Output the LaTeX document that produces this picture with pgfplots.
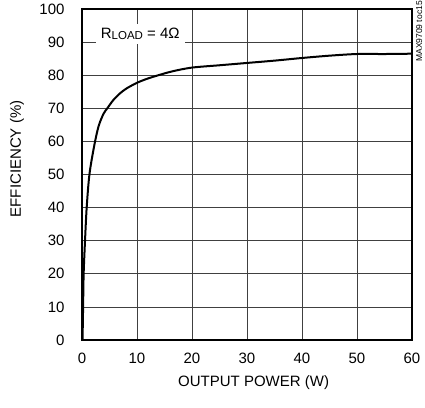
\documentclass[border=0pt]{standalone}
\usepackage{pgfplots}
\pgfplotsset{compat=1.18}
\usepackage{fontspec}
\setmainfont{Liberation Sans}

\begin{document}
\begin{tikzpicture}
\useasboundingbox (-82pt,-67pt) rectangle (343pt,340pt);
\begin{axis}[
    at={(0,0)}, anchor=south west,
    scale only axis,
    width=330pt, height=331pt,
    xmin=0, xmax=60, ymin=0, ymax=100,
    xtick={0,10,...,60},
    ytick={0,10,...,100},
    major tick length=0pt,
    grid=major,
    major grid style={black!75, line width=0.7pt},
    axis line style={line width=2.2pt},
    font=\fontsize{15}{18}\selectfont,
    /pgf/number format/assume math mode=true,
    xticklabel style={yshift=-9pt},
    yticklabel style={xshift=-14pt},
    xlabel={OUTPUT POWER (W)},
    ylabel={EFFICIENCY (\%)},
    xlabel style={at={(rel axis cs:0.52,0)}, anchor=north, yshift=-32pt},
    ylabel style={at={(rel axis cs:-0.197,0.547)}, anchor=center},
    clip=false,
]
\addplot[black, line width=2pt, smooth, tension=0.5] coordinates {
    (0.1,0) (0.2,10) (0.3,20) (0.55,30) (0.85,40) (1.35,50) (2.2,58.5)
    (3,64.5) (3.9,68.3) (4.6,70) (5.7,72.5) (6.9,74.5) (8.1,76)
    (10,77.7) (11.8,78.9) (13.9,80) (16.5,81.2) (20,82.3) (25,83)
    (30,83.7) (35,84.4) (40,85.2) (45,85.9) (50,86.4) (55,86.4) (60,86.5)
};
\node[fill=white, inner xsep=5pt, inner ysep=4pt] at (axis cs:10.6,92.5)
    {R\raisebox{-0.15ex}{\fontsize{11.5}{12}\selectfont LOAD} = 4Ω};
\node[rotate=90, anchor=north east, inner sep=0pt, font=\fontsize{8.5}{9}\selectfont]
    at ([shift={(4pt,8pt)}]rel axis cs:1,1) {MAX9709 toc15};
\end{axis}
\end{tikzpicture}
\end{document}
